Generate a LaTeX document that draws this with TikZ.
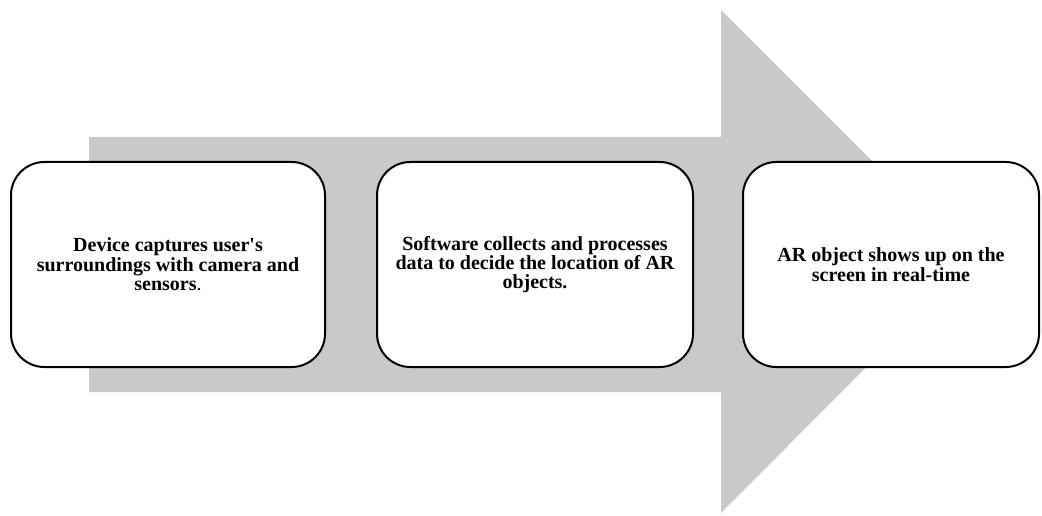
\documentclass[tikz,border=0pt]{standalone}
\usepackage{fontspec}
\setmainfont{Liberation Serif}
\usetikzlibrary{positioning}
\definecolor{arrowgray}{RGB}{201,201,201}
\tikzset{stage/.style={draw,line width=1.5pt,rounded corners=25pt,fill=white,
  minimum height=153.75pt,align=center,font=\fontsize{15}{14.5}\selectfont\bfseries}}
\begin{document}
\begin{tikzpicture}[x=0.75pt,y=0.75pt]
\useasboundingbox (0,0) rectangle (1042,515);
% big block arrow behind the steps
\fill[arrowgray] (89,123) -- (89,378) -- (721,378) -- (721,505) -- (972,254) -- (721,2) -- (721,123) -- cycle;
\node[stage,minimum width=235.5pt] (capture) at (168,250.5)
  {Device captures user\textquotesingle s\\ surroundings with camera and\\ sensors\textmd{.}};
\node[stage,minimum width=237pt,right=37.5pt of capture] (process)
  {Software collects and processes\\ data to decide the location of AR\\ objects.};
\node[stage,minimum width=222pt,right=36pt of process] (display)
  {AR object shows up on the\\ screen in real-time};
\end{tikzpicture}
\end{document}
